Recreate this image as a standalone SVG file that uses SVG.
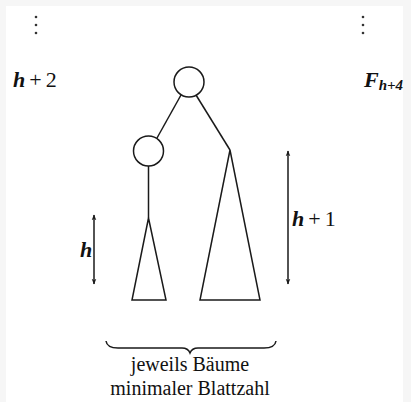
<svg xmlns="http://www.w3.org/2000/svg" width="411" height="402" viewBox="0 0 411 402">
<style>
.ln{stroke:#1a1a1a;stroke-width:1.5;fill:none}
.nd{stroke:#1a1a1a;stroke-width:1.5;fill:#fff}
.t{font-family:"Liberation Serif",serif;fill:#111}
.it{font-style:italic;font-weight:bold}
</style>
<defs>
<marker id="ah" viewBox="0 0 10 10" refX="9" refY="5" markerWidth="6" markerHeight="6" orient="auto-start-reverse" markerUnits="userSpaceOnUse">
<path d="M0,1 L10,5 L0,9 L3,5 Z" fill="#1a1a1a"/>
</marker>
</defs>
<rect width="411" height="402" fill="#f6f6f6"/>
<rect x="6" y="6" width="397" height="396" fill="#fff"/>
<g id="dots-left" fill="#333">
<circle cx="36" cy="17" r="1.3"/><circle cx="36" cy="25" r="1.3"/><circle cx="36" cy="33" r="1.3"/>
</g>
<g id="dots-right" fill="#333">
<circle cx="363" cy="17" r="1.3"/><circle cx="363" cy="25" r="1.3"/><circle cx="363" cy="33" r="1.3"/>
</g>
<text class="t" x="13" y="87" font-size="22"><tspan class="it">h</tspan><tspan dx="4">+</tspan><tspan dx="4">2</tspan></text>
<text class="t it" x="364" y="87" font-size="22">F<tspan font-size="15" dy="3">h+4</tspan></text>
<g id="connectors">
<line class="ln" x1="181" y1="95" x2="157" y2="138"/>
<line class="ln" x1="196" y1="95" x2="230" y2="150"/>
<line class="ln" x1="148.5" y1="166" x2="148.5" y2="218"/>
<line class="ln" x1="94" y1="215" x2="94" y2="284" marker-start="url(#ah)" marker-end="url(#ah)"/>
<line class="ln" x1="288" y1="151" x2="288" y2="284" marker-start="url(#ah)" marker-end="url(#ah)"/>
</g>
<g id="root"><circle class="nd" cx="189" cy="82" r="15"/></g>
<g id="left-child"><circle class="nd" cx="148.5" cy="151" r="15"/></g>
<g id="left-subtree"><polygon class="ln" points="148.5,218 132,300 166,300"/></g>
<g id="right-subtree"><polygon class="ln" points="230,150 200,300 260,300"/></g>
<text class="t it" x="80" y="257" font-size="22">h</text>
<text class="t" x="292" y="226" font-size="22"><tspan class="it">h</tspan><tspan dx="4">+</tspan><tspan dx="4">1</tspan></text>
<g id="brace">
<path class="ln" d="M106,341 Q107,348 118,348 L182,348 Q188,348 190,353 Q192,348 198,348 L264,348 Q275,348 276,341" stroke-width="2.2"/>
</g>
<text class="t" x="190" y="371" font-size="20" text-anchor="middle">jeweils Bäume</text>
<text class="t" x="190" y="395" font-size="20" text-anchor="middle">minimaler Blattzahl</text>
</svg>
